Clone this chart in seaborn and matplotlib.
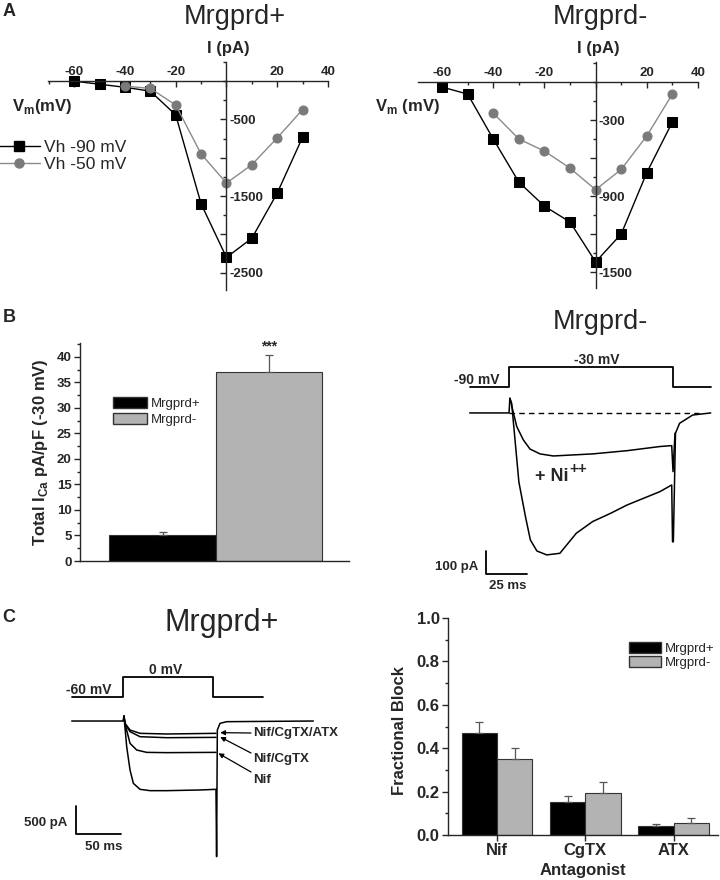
import matplotlib
matplotlib.use('Agg')
import matplotlib.pyplot as plt
from matplotlib.patches import Patch
from matplotlib.lines import Line2D
from matplotlib.ticker import MultipleLocator, FormatStrFormatter
import seaborn as sns
import pandas as pd
import numpy as np

# ---- A: I-V relations (mV, pA) ----
iv_vm = [-60, -50, -40, -30, -20, -10, 0, 10, 20, 30]
iv_vm_50 = [-40, -30, -20, -10, 0, 10, 20, 30]
pos_vh90 = [0, -40, -80, -130, -440, -1600, -2300, -2050, -1460, -730]
pos_vh50 = [-65, -95, -310, -950, -1330, -1090, -740, -370]
neg_vh90 = [-40, -95, -450, -790, -980, -1105, -1420, -1200, -715, -315]
neg_vh50 = [-245, -450, -545, -680, -850, -690, -425, -95]

# ---- B: total ICa density ----
groups = ['Mrgprd+', 'Mrgprd-']
total_ica = [5.0, 37.0]
total_ica_err = [0.6, 3.4]

# ---- B: Mrgprd- traces (ms, pA) ----
b_step_t = [-24, 0, 0, 100, 100, 123]
b_step_v = [-90, -90, -30, -30, -90, -90]
b_ctrl_t = [-24, 0, 0.5, 1.6, 6, 10, 13, 17, 23, 31, 41, 51, 62, 72, 82, 92, 99.2, 99.7, 100.2, 101.5, 104, 112, 123]
b_ctrl_i = [0, 0, 64, 42, -300, -450, -552, -600, -617, -610, -523, -472, -436, -400, -371, -342, -313, -560, -560, -88, -45, -9, 0]
b_ni_t = [0.5, 4.7, 8.7, 12.8, 18.9, 27, 35, 51, 72, 92, 99.2, 100, 101.2]
b_ni_i = [64, -59, -117, -157, -178, -187, -184, -178, -164, -146, -142, -255, -88]

# ---- C: Mrgprd+ traces (ms, pA) ----
c_step_t = [-57, 0, 0, 100, 100, 155]
c_step_v = [-60, -60, 0, 0, -60, -60]
c_ctrl_t = [-57, 0, 1.1, 4.1, 7.8, 11.5, 18.9, 30, 48.5, 85.6, 103.3, 104, 104.8, 107.8, 115.2, 211.5]
c_ctrl_i = [0, 0, 89, -458, -875, -1113, -1220, -1244, -1244, -1232, -1220, -2423, -161, -42, -12, 0]
c_nif_t = [1.1, 2.2, 7.8, 15.2, 26.3, 48.5, 103.3]
c_nif_i = [89, -42, -399, -518, -560, -565, -560]
c_cg_t = [1.1, 2.2, 7.8, 18.9, 48.5, 103.3]
c_cg_i = [89, -42, -190, -280, -298, -292]
c_atx_t = [1.1, 2.2, 7.8, 18.9, 48.5, 103.3]
c_atx_i = [89, -42, -161, -220, -232, -220]

# ---- C: fractional block ----
antagonists = ['Nif', 'CgTX', 'ATX']
block_pos = [0.47, 0.15, 0.04]
block_pos_err = [0.05, 0.03, 0.01]
block_neg = [0.35, 0.195, 0.055]
block_neg_err = [0.05, 0.05, 0.025]

BLACK = '#000000'
GRAY = '#b3b3b3'
DOT = '#7a7a7a'

W, H = 720, 880
sns.set_style('ticks')
plt.rcParams['font.family'] = ['Liberation Sans', 'DejaVu Sans']
plt.rcParams['axes.unicode_minus'] = False
plt.rcParams['mathtext.fontset'] = 'custom'
plt.rcParams['mathtext.rm'] = 'Liberation Sans'
plt.rcParams['mathtext.bf'] = 'Liberation Sans:bold'
plt.rcParams['axes.linewidth'] = 1.0

fig = plt.figure(figsize=(7.2, 8.8), dpi=100)


def add_ax(x0, y0, x1, y1):
    # box given in pixels from the top-left corner
    return fig.add_axes([x0 / W, 1 - y1 / H, (x1 - x0) / W, (y1 - y0) / H])


def ftext(x, y, s, **kw):
    kw.setdefault('ha', 'center')
    kw.setdefault('va', 'center')
    fig.text(x / W, 1 - y / H, s, **kw)


def bold_ticks(ax, size):
    for lab in ax.get_xticklabels() + ax.get_yticklabels():
        lab.set_fontweight('bold')
        lab.set_fontsize(size)


def iv_panel(box, xlim, ylim, yticks, ylabels, yminor):
    ax = add_ax(*box)
    ax.set_xlim(*xlim)
    ax.set_ylim(*ylim)
    ax.spines['left'].set_visible(False)
    ax.spines['bottom'].set_visible(False)
    ax.spines['top'].set_position(('data', 0))
    ax.spines['right'].set_position(('data', 0))
    ax.xaxis.set_ticks_position('top')
    ax.yaxis.set_ticks_position('right')
    ax.set_xticks([-60, -40, -20, 0, 20, 40])
    ax.set_xticklabels(['-60', '-40', '-20', '', '20', '40'])
    ax.xaxis.set_minor_locator(MultipleLocator(10))
    ax.set_yticks(yticks)
    ax.set_yticklabels(ylabels)
    ax.yaxis.set_minor_locator(MultipleLocator(yminor))
    ax.tick_params(which='both', direction='in', width=1)
    ax.tick_params(which='major', length=4, pad=2)
    ax.tick_params(which='minor', length=2)
    bold_ticks(ax, 9.5)
    return ax


def iv_line(ax, vm, cur, marker, color, lcolor):
    sns.lineplot(x=vm, y=cur, ax=ax, color=lcolor, linewidth=1.0, marker=marker,
                 markersize=6.5, markerfacecolor=color, markeredgecolor=color,
                 legend=False, clip_on=False)


# ===== Panel A =====
ax_a1 = iv_panel((48, 62, 328, 290), (-70.3, 40), (-2725, 250),
                 [-2500, -2000, -1500, -1000, -500], ['-2500', '', '-1500', '', '-500'], 250)
iv_line(ax_a1, iv_vm, pos_vh90, 's', BLACK, BLACK)
iv_line(ax_a1, iv_vm_50, pos_vh50, 'o', DOT, '#8a8a8a')

ax_a2 = iv_panel((418, 62, 698, 288), (-69.4, 40), (-1626, 158),
                 [-1500, -1200, -900, -600, -300], ['-1500', '', '-900', '', '-300'], 150)
iv_line(ax_a2, iv_vm, neg_vh90, 's', BLACK, BLACK)
iv_line(ax_a2, iv_vm_50, neg_vh50, 'o', DOT, '#8a8a8a')

iv_handles = [Line2D([], [], color=BLACK, marker='s', markersize=6.5, lw=1.0),
              Line2D([], [], color='#8a8a8a', marker='o', markersize=6.5, lw=1.0,
                     markerfacecolor=DOT, markeredgecolor=DOT)]
fig.legend(iv_handles, ['Vh -90 mV', 'Vh -50 mV'], loc='upper left',
           bbox_to_anchor=(-2 / W, 1 - 140 / H), frameon=False, fontsize=12.5,
           handlelength=2.4, handletextpad=0.25, labelspacing=0.1, borderpad=0,
           borderaxespad=0)

ftext(9, 11, 'A', fontsize=13, fontweight='bold')
ftext(235, 17, 'Mrgprd+', fontsize=19.5)
ftext(600, 17, 'Mrgprd-', fontsize=19.5)
ftext(228, 48, 'I (pA)', fontsize=12, fontweight='bold')
ftext(598, 48, 'I (pA)', fontsize=12, fontweight='bold')
ftext(42, 106, r'V$_{\mathbf{m}}$(mV)', fontsize=12, fontweight='bold')
ftext(407, 106, r'V$_{\mathbf{m}}$ (mV)', fontsize=12, fontweight='bold')

# ===== Panel B: bar chart =====
ftext(9, 318, 'B', fontsize=13, fontweight='bold')
ax_b1 = add_ax(80, 343, 349, 561)
sns.barplot(x=groups, y=total_ica, hue=groups, palette=[BLACK, GRAY], width=1.0,
            errorbar=None, edgecolor='#333333', linewidth=0.8, legend=False, ax=ax_b1)
ax_b1.errorbar(range(len(groups)), total_ica, yerr=[np.zeros(len(groups)), total_ica_err],
               fmt='none', ecolor='#555555', elinewidth=0.9, capsize=3, capthick=0.9)
ax_b1.text(1, total_ica[1] + total_ica_err[1] + 0.2, '***', ha='center', va='bottom',
           fontsize=10, fontweight='bold')
ax_b1.set_xlim(-0.775, 1.75)
ax_b1.set_ylim(0, 42.7)
ax_b1.set_xticks([])
ax_b1.yaxis.set_major_locator(MultipleLocator(5))
ax_b1.yaxis.set_minor_locator(MultipleLocator(2.5))
ax_b1.tick_params(which='major', length=4, width=1, pad=2)
ax_b1.tick_params(which='minor', length=2, width=1)
sns.despine(ax=ax_b1)
bold_ticks(ax_b1, 9.5)
ax_b1.legend([Patch(facecolor=BLACK, edgecolor='#333333'), Patch(facecolor=GRAY, edgecolor='#333333')],
             groups, loc='upper left', bbox_to_anchor=(113 / W, 1 - 397 / H),
             bbox_transform=fig.transFigure, frameon=False, fontsize=9.5,
             handlelength=2.6, handleheight=0.9, handletextpad=0.3, labelspacing=0.25,
             borderpad=0, borderaxespad=0)
ftext(41, 452, r'Total I$_{\mathbf{Ca}}$ pA/pF (-30 mV)', fontsize=12,
      fontweight='bold', rotation=90)

# ===== Panel B: traces =====
ftext(600, 322, 'Mrgprd-', fontsize=19.5)
ax_bv = add_ax(440, 350, 715, 394)
sns.lineplot(x=b_step_t, y=b_step_v, sort=False, estimator=None, color=BLACK,
             linewidth=1.3, ax=ax_bv)
ax_bv.set_xlim(-42.1, 125.6)
ax_bv.set_ylim(-111, 21)
ax_bv.axis('off')

ax_bi = add_ax(440, 395, 715, 600)
sns.lineplot(x=b_ctrl_t, y=b_ctrl_i, sort=False, estimator=None, color=BLACK,
             linewidth=1.1, ax=ax_bi)
sns.lineplot(x=b_ni_t, y=b_ni_i, sort=False, estimator=None, color=BLACK,
             linewidth=1.1, ax=ax_bi)
ax_bi.hlines(0, 0, 116, colors=BLACK, linestyles=(0, (4, 3)), linewidth=1.0)
ax_bi.plot([-14, -14, 11], [-600, -700, -700], color=BLACK, linewidth=1.3)
ax_bi.set_xlim(-42.1, 125.6)
ax_bi.set_ylim(-813, 78)
ax_bi.axis('off')

ftext(500, 380, f'{b_step_v[0]} mV', ha='right', fontsize=10, fontweight='bold')
ftext(597, 360, f'{b_step_v[2]} mV', fontsize=10, fontweight='bold')
ftext(535, 476, '+ Ni', ha='left', fontsize=13, fontweight='bold')
ftext(569, 469, '++', ha='left', fontsize=11, fontweight='bold')
ftext(478, 567, '100 pA', ha='right', fontsize=9.5, fontweight='bold')
ftext(508, 586, '25 ms', fontsize=9.5, fontweight='bold')

# ===== Panel C: traces =====
ftext(9, 618, 'C', fontsize=13, fontweight='bold')
ftext(222, 623, 'Mrgprd+', fontsize=22)
ax_cv = add_ax(60, 660, 330, 706)
sns.lineplot(x=c_step_t, y=c_step_v, sort=False, estimator=None, color=BLACK,
             linewidth=1.3, ax=ax_cv)
ax_cv.set_xlim(-70, 230)
ax_cv.set_ylim(-87, 51)
ax_cv.axis('off')

ax_ci = add_ax(60, 712, 330, 870)
for tt, ii in [(c_ctrl_t, c_ctrl_i), (c_nif_t, c_nif_i), (c_cg_t, c_cg_i), (c_atx_t, c_atx_i)]:
    sns.lineplot(x=tt, y=ii, sort=False, estimator=None, color=BLACK, linewidth=1.1,
                 ax=ax_ci)
ax_ci.plot([-52, -52, -2], [-1518, -2018, -2018], color=BLACK, linewidth=1.3)
ax_ci.set_xlim(-70, 230)
ax_ci.set_ylim(-2661, 161)
ax_ci.axis('off')

arrow_kw = dict(arrowstyle='-|>', color=BLACK, lw=0.9, mutation_scale=7,
                shrinkA=0, shrinkB=0)
for label, tip, tail, ty in [('Nif/CgTX/ATX', (108, -208), (251, 733), 733),
                             ('Nif/CgTX', (108, -285), (251, 753), 759),
                             ('Nif', (106, -577), (251, 772), 780)]:
    ax_ci.annotate('', xy=tip, xycoords='data',
                   xytext=(tail[0] / W, 1 - tail[1] / H), textcoords='figure fraction',
                   arrowprops=arrow_kw)
    ftext(253, ty, label, ha='left', fontsize=9.5, fontweight='bold')

ftext(112, 690, f'{c_step_v[0]} mV', ha='right', fontsize=10, fontweight='bold')
ftext(166, 670, f'{c_step_v[2]} mV', fontsize=10, fontweight='bold')
ftext(67, 823, '500 pA', ha='right', fontsize=9.5, fontweight='bold')
ftext(104, 847, '50 ms', fontsize=9.5, fontweight='bold')

# ===== Panel C: fractional block =====
block_df = pd.DataFrame({
    'antagonist': antagonists * 2,
    'group': [groups[0]] * 3 + [groups[1]] * 3,
    'value': block_pos + block_neg,
})
ax_c2 = add_ax(448, 618, 718, 835)
sns.barplot(data=block_df, x='antagonist', y='value', hue='group', palette=[BLACK, GRAY],
            width=0.8, errorbar=None, edgecolor='#333333', linewidth=0.8, legend=False,
            ax=ax_c2)
for cont, vals, errs in zip(ax_c2.containers, [block_pos, block_neg], [block_pos_err, block_neg_err]):
    xs = [b.get_x() + b.get_width() / 2 for b in cont]
    ax_c2.errorbar(xs, vals, yerr=[np.zeros(len(vals)), errs], fmt='none', ecolor='#555555',
                   elinewidth=0.9, capsize=3, capthick=0.9)
ax_c2.set_xlim(-0.554, 2.5)
ax_c2.set_ylim(0, 1.0)
ax_c2.yaxis.set_major_locator(MultipleLocator(0.2))
ax_c2.yaxis.set_minor_locator(MultipleLocator(0.1))
ax_c2.yaxis.set_major_formatter(FormatStrFormatter('%.1f'))
ax_c2.tick_params(which='major', length=4, width=1, pad=2)
ax_c2.tick_params(which='minor', length=2, width=1)
sns.despine(ax=ax_c2)
bold_ticks(ax_c2, 12)
ax_c2.set_xlabel('Antagonist', fontsize=12, fontweight='bold', labelpad=3)
ax_c2.set_ylabel('')
ftext(400, 731, 'Fractional Block', fontsize=12, fontweight='bold', rotation=90)
ax_c2.legend([Patch(facecolor=BLACK, edgecolor='#333333'), Patch(facecolor=GRAY, edgecolor='#333333')],
             groups, loc='upper left', bbox_to_anchor=(629 / W, 1 - 642 / H),
             bbox_transform=fig.transFigure, frameon=False, fontsize=9.5,
             handlelength=2.4, handleheight=0.9, handletextpad=0.3, labelspacing=0.05,
             borderpad=0, borderaxespad=0)

fig.savefig('out.png', dpi=100)
plt.close(fig)
